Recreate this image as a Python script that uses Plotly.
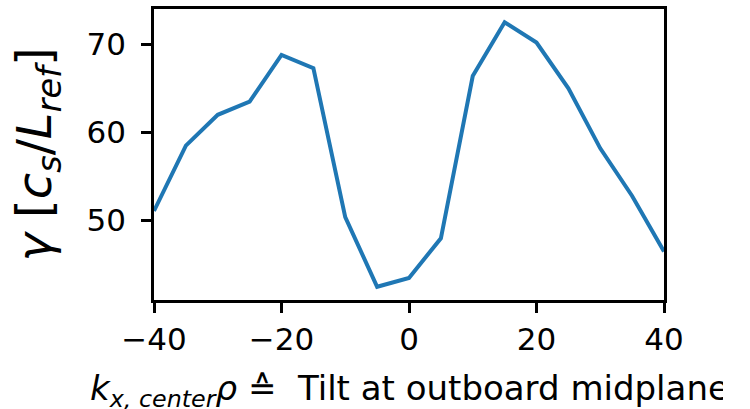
import plotly.graph_objects as go

# Growth rate versus radial wavenumber (tilt at the outboard midplane)
kx_center = [-40, -35, -30, -25, -20, -15, -10, -5, 0, 5, 10, 15, 20, 25, 30, 35, 40]
gamma = [51.1, 58.5, 62.0, 63.5, 68.8, 67.3, 50.4, 42.5, 43.5, 48.0,
         66.4, 72.5, 70.2, 65.0, 58.2, 52.8, 46.5]

x_ticks = [-40, -20, 0, 20, 40]
y_ticks = [50, 60, 70]

FONT = "DejaVu Sans"

fig = go.Figure()
fig.add_trace(go.Scatter(
    x=kx_center, y=gamma, mode="lines",
    line=dict(color="#1f77b4", width=4),
    showlegend=False,
))

axis_common = dict(
    showline=True, linecolor="black", linewidth=2.5, mirror=True,
    ticks="outside", ticklen=10, tickwidth=2.5, tickcolor="black",
    showgrid=False, zeroline=False,
    tickfont=dict(family=FONT, size=31, color="black"),
)

fig.update_layout(
    width=723, height=409,
    margin=dict(l=154, r=59, t=6, b=109),
    paper_bgcolor="white", plot_bgcolor="white",
    xaxis=dict(
        range=[-40, 40], tickvals=x_ticks,
        ticklabelstandoff=0,
        **axis_common,
    ),
    yaxis=dict(
        range=[41.0, 74.0], tickvals=y_ticks,
        ticklabelstandoff=9,
        title=dict(
            text="<i>γ</i> [<i>c</i><sub><i>s</i></sub>/<i>L</i><sub><i>ref</i></sub>]",
            font=dict(family=FONT, size=48, color="black"),
            standoff=20,
        ),
        **axis_common,
    ),
)

# x-axis label, placed below the tick labels and allowed to run past the edge
fig.add_annotation(
    text="<i>k</i><sub><i>x, center</i></sub><i>ρ</i> ≙  Tilt at outboard midplane",
    xref="paper", yref="paper", x=0.5, y=0,
    xanchor="center", yanchor="top", yshift=-66,
    showarrow=False,
    font=dict(family=FONT, size=34, color="black"),
)

fig.write_html("out.html")
